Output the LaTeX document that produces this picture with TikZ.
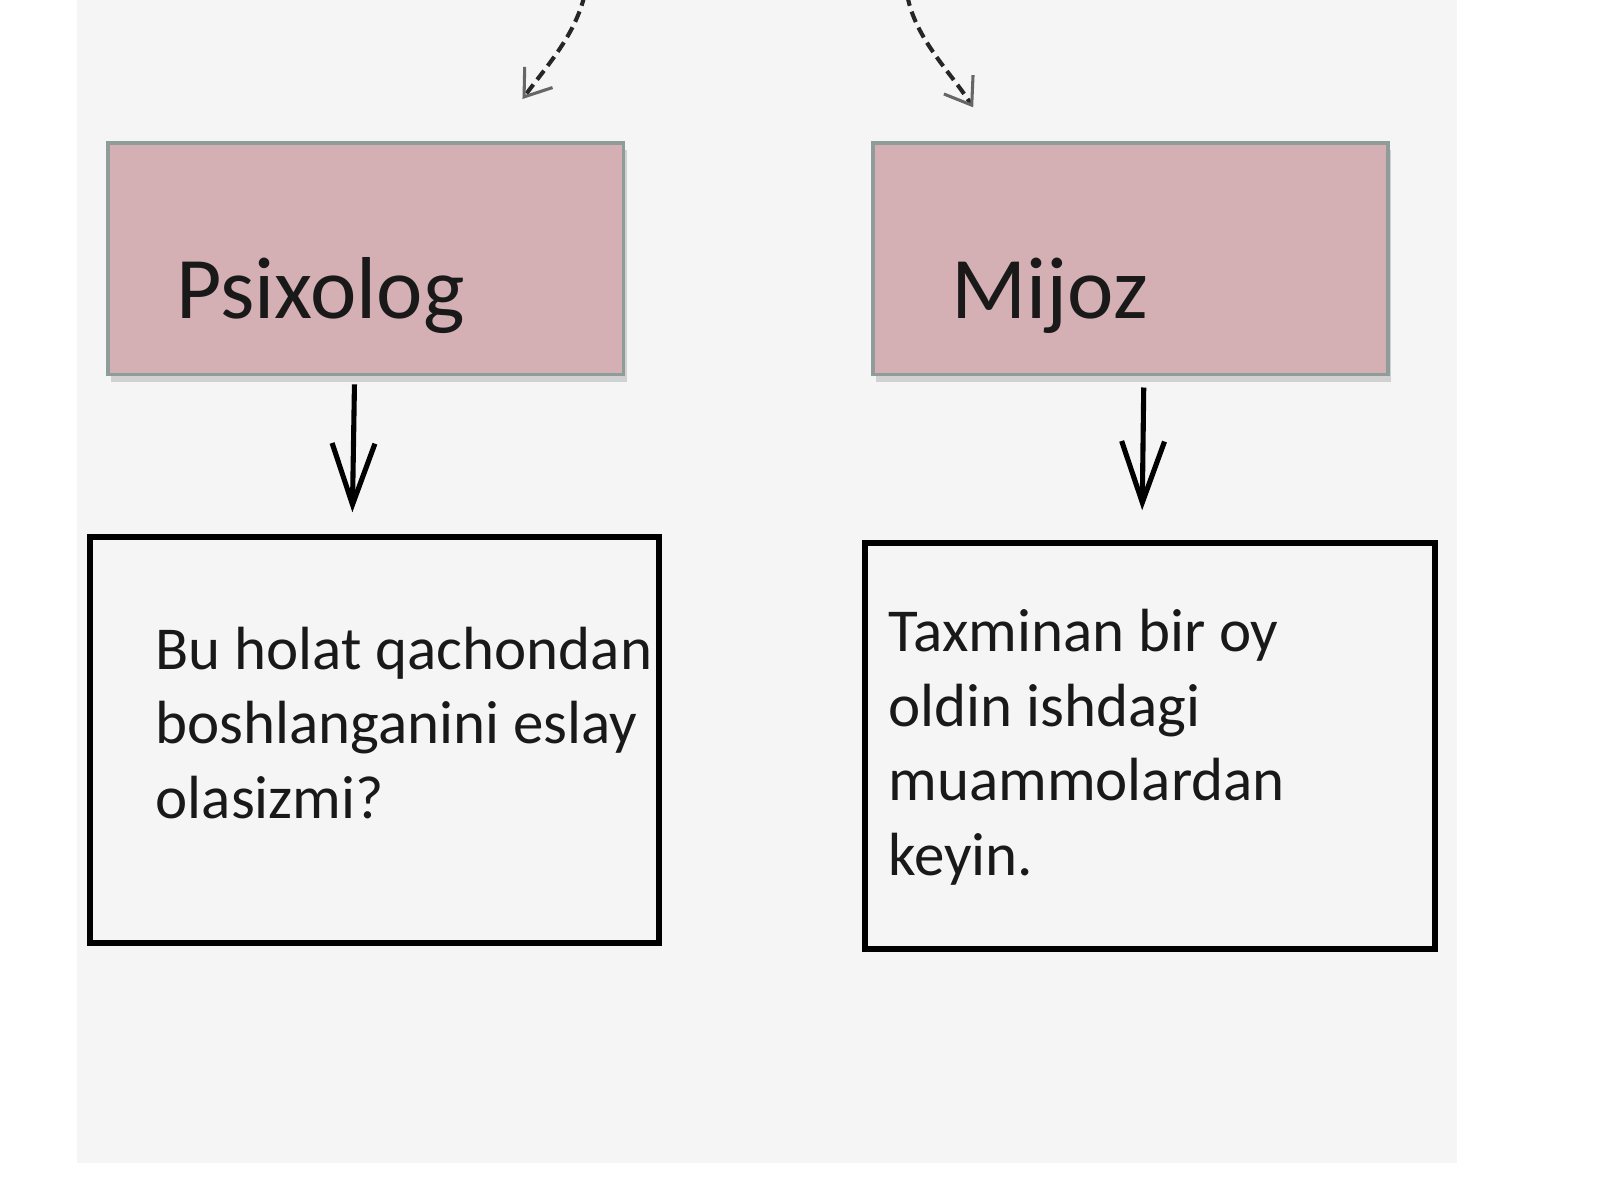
\documentclass[tikz,border=0pt]{standalone}
\usepackage{xcolor}
\usepackage{fontspec}
\setmainfont{Carlito}
\usetikzlibrary{positioning,shadows,arrows.meta}
\definecolor{pushti}{HTML}{D4AFB3}
\definecolor{chegara}{HTML}{8E9D99}
\definecolor{fon}{HTML}{F5F5F5}
\definecolor{uchrang}{HTML}{666666}

\begin{document}
\begin{tikzpicture}[
            x=0.1mm,y=-0.1mm,
            sarlavha/.style={
                    draw=chegara,
                    line width=0.35mm,
                    fill=pushti,
                    minimum width=50.5mm,
                    minimum height=22.7mm,
                    drop shadow={shadow xshift=0.3mm,shadow yshift=-0.7mm,opacity=0.3}
                },
            matnquti/.style={
                    draw,
                    line width=0.6mm,
                    fill=fon,
                    minimum width=55.8mm,
                    minimum height=39.8mm
                },
            sarlavhamatn/.style={
                    inner sep=0pt,
                    text=black!90,
                    font=\fontsize{24.5}{29}\selectfont
                },
            matn/.style={
                    inner sep=0pt,
                    align=left,
                    text=black!90,
                    font=\fontsize{17}{20.8}\selectfont
                },
            oq/.style={
                    line width=0.5mm,
                    -{Straight Barb[length=6mm,width=4.2mm,line width=0.5mm]}
                },
            uzuq/.style={
                    line width=0.4mm,
                    black!85,
                    dash pattern=on 1.1mm off 0.6mm,
                    -{Straight Barb[length=2.4mm,width=3.4mm,line width=0.3mm,color=uchrang,sep=-0.5mm]}
                }
        ]
        \useasboundingbox (0,0) rectangle (1568,1176);
        \fill[fon] (75,0) rectangle (1428,1140);

        \node[sarlavha] (psixolog) at (358.5,253.5) {};
        \node[sarlavha] (mijoz) at (1108,253.5) {};
        \node[matnquti] (savol) at (367,725) {};
        \node[matnquti] (javob) at (1127,731) {};

        \node[sarlavhamatn,anchor=base west] (psixologT) at (172,312) {Psixolog};
        \node[sarlavhamatn,anchor=base west] (mijozT) at (932,312) {Mijoz};

        \node[matn,anchor=base west] (savolT) at (152,802)
        {Bu holat qachondan\\boshlanganini eslay\\olasizmi?};
        \node[matn,anchor=base west] (javobT) at (870,858)
        {Taxminan bir oy\\oldin ishdagi\\muammolardan\\keyin.};

        \draw[oq,shorten <=0.8mm,shorten >=2.1mm] ([xshift=-1.1mm]psixolog.south) -- ([xshift=-2.2mm]savol.north);
        \draw[oq,shorten <=1.1mm,shorten >=2.9mm] ([xshift=1.3mm]mijoz.south) -- ([xshift=-0.8mm]javob.north);

        \coordinate (manba1) at (573,-5);
        \coordinate (uch1) at (515,93);
        \coordinate (manba2) at (889,-5);
        \coordinate (uch2) at (951,101);
        \draw[uzuq] (manba1) .. controls (563,35) and (538,62) .. (uch1);
        \draw[uzuq] (manba2) .. controls (897,38) and (931,70) .. (uch2);
    \end{tikzpicture}
\end{document}
